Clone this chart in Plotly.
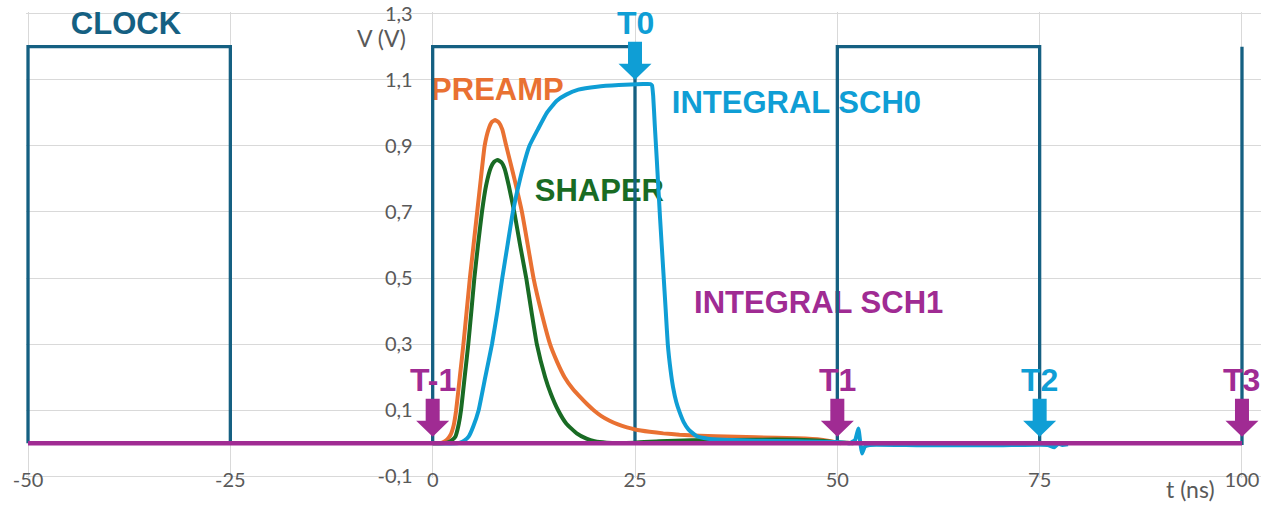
import plotly.graph_objects as go

# ---------------- data ----------------
clock_t = [-50, -50, -25, -25, 0, 0, 25, 25, 50, 50, 75, 75, 100, 100]
clock_v = [0, 1.2, 1.2, 0, 0, 1.2, 1.2, 0, 0, 1.2, 1.2, 0, 0, 1.2]

preamp_t = [0, 1.0, 1.4, 1.8, 2.2, 2.6, 2.9, 3.35, 3.8, 4.2, 4.6, 5.05, 5.5, 5.95, 6.42, 6.9, 7.3,
            7.73, 8.2, 8.6, 9.09, 9.6, 10.1, 11.03, 11.75, 12.46, 13.4, 14.5, 15.4, 16.3, 17.3,
            18.3, 19.1, 19.9, 20.8, 21.8, 22.9, 24.0, 25, 26.8, 28.5, 30.5, 33, 35, 40, 45, 48,
            49.5, 50.5]
preamp_v = [0, 0.001, 0.005, 0.012, 0.025, 0.055, 0.1, 0.2, 0.3, 0.4, 0.5, 0.6, 0.7, 0.8, 0.9,
            0.95, 0.972, 0.978, 0.97, 0.95, 0.9, 0.85, 0.8, 0.7, 0.6, 0.5, 0.4, 0.3, 0.245, 0.2,
            0.165, 0.138, 0.118, 0.1, 0.083, 0.069, 0.057, 0.048, 0.042, 0.035, 0.03, 0.026, 0.023,
            0.021, 0.018, 0.015, 0.011, 0.005, 0]

shaper_t = [0, 1.5, 2.0, 2.4, 2.8, 3.15, 3.5, 3.95, 4.4, 4.78, 5.15, 5.6, 6.09, 6.6, 7.2, 7.6,
            8.02, 8.5, 8.9, 9.4, 10.08, 10.8, 11.56, 12.2, 12.87, 13.9, 14.6, 15.5, 16.5, 17.8,
            19.0, 20.0, 21.5, 25, 28, 32, 40, 45, 48, 50, 52]
shaper_v = [0, 0.001, 0.004, 0.01, 0.02, 0.05, 0.1, 0.2, 0.3, 0.4, 0.5, 0.6, 0.7, 0.78, 0.835,
            0.852, 0.857, 0.85, 0.83, 0.78, 0.7, 0.6, 0.5, 0.4, 0.3, 0.2, 0.15, 0.1, 0.06, 0.03,
            0.014, 0.006, 0.002, 0.002, 0.006, 0.009, 0.011, 0.011, 0.008, 0.003, 0]

sch0_t = [0, 3.0, 3.4, 3.9, 4.44, 5.0, 5.68, 6.5, 7.33, 8.0, 8.6, 9.25, 9.91, 10.8, 11.96, 13.0,
          14.1, 15.3, 16.5, 18.0, 20.3, 23, 26.0, 26.9, 27.1, 27.25, 27.45, 27.7, 28.1, 28.5,
          28.8, 29.05, 29.4, 29.7, 30.1, 30.5, 31.0, 31.6, 32.6, 34.0, 36, 40, 45, 50, 51.5,
          52.2, 52.6, 52.85, 53.05, 53.4, 54, 60, 70, 76, 76.8, 77.3, 77.8, 78.5]
sch0_v = [0, 0, 0.002, 0.008, 0.02, 0.05, 0.1, 0.2, 0.3, 0.4, 0.5, 0.6, 0.7, 0.8, 0.9, 0.95,
          1.0, 1.036, 1.055, 1.07, 1.079, 1.084, 1.087, 1.087, 1.083, 1.05, 0.96, 0.855, 0.68,
          0.52, 0.4, 0.3, 0.22, 0.17, 0.125, 0.095, 0.065, 0.042, 0.022, 0.014, 0.011, 0.008,
          0.006, 0.004, 0.0, 0.01, 0.045, 0.0, -0.031, -0.01, -0.005, -0.006, -0.006, -0.005,
          -0.012, -0.001, -0.005, -0.003]

sch1_t = [-50, 100]
sch1_v = [0, 0]

marker_names = ["T-1", "T0", "T1", "T2", "T3"]
marker_t = [0, 25, 50, 75, 100]
marker_v = [0.02, 1.1, 0.02, 0.02, 0.02]

x_ticks = [-50, -25, 0, 25, 50, 75, 100]
x_ticktext = ["-50", "-25", "0", "25", "50", "75", "100"]
y_ticks = [-0.1, 0.1, 0.3, 0.5, 0.7, 0.9, 1.1, 1.3]
y_ticktext = ["-0,1", "0,1", "0,3", "0,5", "0,7", "0,9", "1,1", "1,3"]

series_labels = ["CLOCK", "PREAMP", "SHAPER", "INTEGRAL SCH0", "INTEGRAL SCH1"]

# ---------------- styles ----------------
C_CLOCK = "#156082"
C_PRE = "#E97132"
C_SHA = "#196B24"
C_SCH0 = "#0F9ED5"
C_SCH1 = "#A02B93"
marker_colors = [C_SCH1, C_SCH0, C_SCH1, C_SCH0, C_SCH1]
label_colors = [C_CLOCK, C_PRE, C_SHA, C_SCH0, C_SCH1]
label_pos = [(-37.9, 1.262), (8.0, 1.063), (20.6, 0.758), (44.95, 1.024), (47.7, 0.418)]

AX_FONT = dict(family="Lato", size=20, color="#595959")
BOLD = "Liberation Sans"
# block arrow outline in pixels, tip at the anchor point (positive = up)
ARROW_PATH = "M-7,38 L7,38 L7,16 L16.5,16 L0,0 L-16.5,16 L-7,16 Z"

X_RANGE = [-50.25, 102.35]

fig = go.Figure()

# series name labels (below the clock line)
for name, (lx, ly), col in zip(series_labels, label_pos, label_colors):
    fig.add_trace(go.Scatter(x=[lx], y=[ly], mode="text", text=["<b>" + name + "</b>"],
                             textposition="middle center",
                             textfont=dict(family=BOLD, size=31, color=col),
                             showlegend=False, hoverinfo="skip"))

fig.add_trace(go.Scatter(x=clock_t, y=clock_v, mode="lines",
                         line=dict(color=C_CLOCK, width=3.3), showlegend=False))
fig.add_trace(go.Scatter(x=preamp_t, y=preamp_v, mode="lines",
                         line=dict(color=C_PRE, width=4, shape="spline", smoothing=0.4),
                         showlegend=False))
fig.add_trace(go.Scatter(x=shaper_t, y=shaper_v, mode="lines",
                         line=dict(color=C_SHA, width=4, shape="spline", smoothing=0.4),
                         showlegend=False))
fig.add_trace(go.Scatter(x=sch0_t, y=sch0_v, mode="lines",
                         line=dict(color=C_SCH0, width=4, shape="spline", smoothing=0.4),
                         showlegend=False))
fig.add_trace(go.Scatter(x=sch1_t, y=sch1_v, mode="lines",
                         line=dict(color=C_SCH1, width=4.5), showlegend=False))

shapes = []
annotations = []
for name, mt, mv, col in zip(marker_names, marker_t, marker_v, marker_colors):
    shapes.append(dict(type="path", xref="x", yref="y", xsizemode="pixel", ysizemode="pixel",
                       xanchor=mt, yanchor=mv, path=ARROW_PATH, fillcolor=col,
                       line=dict(width=0), layer="above"))
    annotations.append(dict(x=mt, y=mv, xref="x", yref="y", text="<b>" + name + "</b>",
                            font=dict(family=BOLD, size=32, color=col),
                            showarrow=False, yshift=57))

annotations.append(dict(x=0, y=1.225, xref="x", yref="y", text="V (V)", showarrow=False,
                        xanchor="center", xshift=-51,
                        font=dict(family="Lato", size=23, color="#595959")))
annotations.append(dict(x=93.6, y=-0.058, xref="x", yref="paper", text="t (ns)",
                        showarrow=False, xanchor="center", yanchor="bottom",
                        font=dict(family="Lato", size=23, color="#595959")))

fig.update_layout(
    width=1261, height=506,
    margin=dict(l=26, r=0, t=12, b=28),
    paper_bgcolor="white", plot_bgcolor="white",
    showlegend=False,
    shapes=shapes,
    annotations=annotations,
    xaxis=dict(range=X_RANGE, tickvals=x_ticks, ticktext=x_ticktext, showgrid=True,
               automargin=False, gridcolor="#D9D9D9", gridwidth=1.3, zeroline=False,
               showline=False, ticks="", tickfont=AX_FONT, ticklabelstandoff=-12),
    yaxis=dict(range=[-0.105, 1.305], tickvals=y_ticks, ticktext=y_ticktext, automargin=False,
               anchor="free", position=(0 - X_RANGE[0]) / (X_RANGE[1] - X_RANGE[0]),
               showgrid=True, gridcolor="#D9D9D9", gridwidth=1.3, zeroline=False,
               showline=False, ticks="", tickfont=AX_FONT, ticklabelstandoff=20),
)

fig.write_html("out.html")
